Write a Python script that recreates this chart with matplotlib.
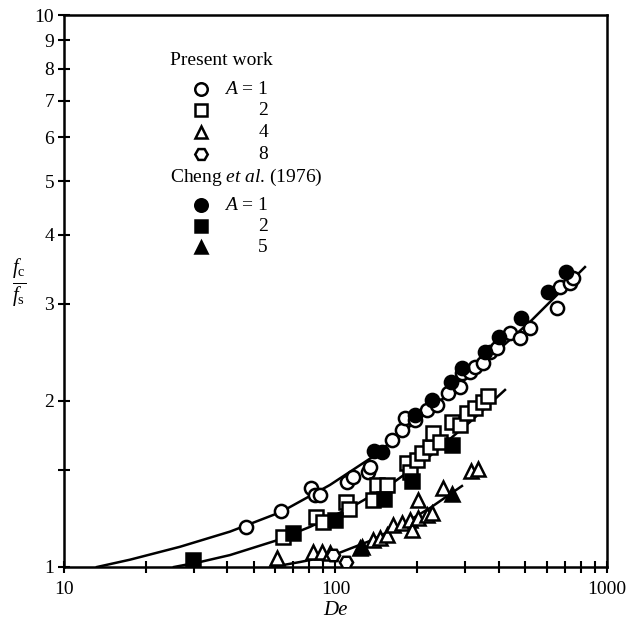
import numpy as np
import matplotlib.pyplot as plt
from matplotlib.ticker import FixedLocator, NullFormatter, NullLocator

plt.rcParams['font.family'] = ['Liberation Serif', 'DejaVu Serif']
plt.rcParams['mathtext.fontset'] = 'custom'
plt.rcParams['mathtext.rm'] = 'Liberation Serif'
plt.rcParams['mathtext.it'] = 'Liberation Serif:italic'

# Present work, A = 1 (open circles)
de_a1 = [46.8, 63.0, 81.2, 84.0, 87.7, 110.3, 116.0, 131.8, 134.0, 161.5, 175.8, 180.3, 196.3,
         217.3, 236.5, 259.7, 287.4, 292.3, 312.8, 326.4, 349.4, 370.8, 393.4, 439.3, 478.1,
         520.5, 654.4, 671.3, 730.7, 749.6]
fr_a1 = [1.181, 1.263, 1.390, 1.350, 1.350, 1.426, 1.456, 1.486, 1.518, 1.699, 1.771, 1.862,
         1.846, 1.925, 1.966, 2.067, 2.119, 2.246, 2.256, 2.303, 2.342, 2.452, 2.493, 2.654,
         2.599, 2.710, 2.946, 3.216, 3.270, 3.339]
# Present work, A = 2 (open squares)
de_a2 = [64.1, 84.8, 89.9, 109.3, 112.1, 137.5, 142.2, 154.8, 183.4, 188.1, 199.7, 208.3,
         222.9, 228.6, 242.6, 268.6, 287.4, 305.0, 326.4, 349.4, 364.5]
fr_a2 = [1.133, 1.232, 1.206, 1.311, 1.274, 1.322, 1.408, 1.408, 1.543, 1.486, 1.563, 1.609,
         1.650, 1.748, 1.685, 1.831, 1.808, 1.901, 1.941, 1.990, 2.041]
# Present work, A = 4 (open triangles)
de_a4 = [60.9, 82.6, 89.2, 95.4, 123.1, 137.5, 145.8, 154.8, 162.8, 175.8, 188.1, 191.3,
         201.4, 217.3, 226.7, 201.4, 248.8, 315.6, 334.9]
fr_a4 = [1.038, 1.065, 1.065, 1.060, 1.082, 1.119, 1.129, 1.143, 1.191, 1.201, 1.217, 1.167,
         1.227, 1.242, 1.253, 1.322, 1.390, 1.492, 1.505]
# Present work, A = 8 (open hexagons)
de_a8 = [97.9, 109.3]
fr_a8 = [1.051, 1.021]

# Cheng et al. (1976)
de_c1 = [138.6, 148.4, 196.3, 226.7, 266.3, 292.3, 355.3, 400.2, 482.2, 606.3, 706.3]
fr_c1 = [1.622, 1.615, 1.886, 2.006, 2.163, 2.294, 2.452, 2.610, 2.826, 3.150, 3.422]
de_c2 = [29.9, 69.8, 99.6, 150.9, 191.3, 268.6]
fr_c2 = [1.030, 1.152, 1.217, 1.328, 1.431, 1.663]
de_c5 = [125.2, 268.6]
fr_c5 = [1.087, 1.356]

# solid curves (A = 1, 2, 4)
cx_1 = [13.23, 17.51, 26.75, 40.87, 63.0, 95.4, 138.6, 226.7, 355.3, 529.4, 829.8]
cy_1 = [1.0, 1.031, 1.088, 1.159, 1.258, 1.408, 1.589, 1.941, 2.351, 2.803, 3.495]
cx_2 = [25.42, 31.7, 40.87, 59.9, 80.5, 113.1, 158.8, 222.9, 312.8, 421.1]
cy_2 = [1.0, 1.021, 1.051, 1.115, 1.182, 1.279, 1.408, 1.589, 1.831, 2.093]
cx_4 = [58.4, 74.0, 87.7, 103.9, 134.0, 172.8, 222.9, 292.3]
cy_4 = [1.0, 1.021, 1.038, 1.062, 1.115, 1.187, 1.279, 1.402]

fig = plt.figure(figsize=(6.31, 6.27), dpi=100)
ax = fig.add_axes([0.1014, 0.0957, 0.8605, 0.8803])
ax.set_xscale('log')
ax.set_yscale('log')
ax.set_xlim(10, 1000)
ax.set_ylim(1, 10)

for cx, cy in [(cx_1, cy_1), (cx_2, cy_2), (cx_4, cy_4)]:
    ax.plot(cx, cy, color='black', lw=1.8, zorder=2, solid_joinstyle='round')

kw = dict(linestyle='none', markersize=9.5, markeredgewidth=1.8, markeredgecolor='black', zorder=3)
ax.plot(de_a1, fr_a1, 'o', markerfacecolor='white', **kw)
ax.plot(de_a2, fr_a2, 's', markerfacecolor='white', **kw)
ax.plot(de_a4, fr_a4, '^', markerfacecolor='white', **kw)
ax.plot(de_a8, fr_a8, 'H', markerfacecolor='white', **kw)
ax.plot(de_c1, fr_c1, 'o', markerfacecolor='black', **kw)
ax.plot(de_c2, fr_c2, 's', markerfacecolor='black', **kw)
ax.plot(de_c5, fr_c5, '^', markerfacecolor='black', **kw)

# axes styling
for s in ax.spines.values():
    s.set_linewidth(1.8)
ax.xaxis.set_major_locator(FixedLocator([10, 100, 1000]))
ax.set_xticklabels(['10', '100', '1000'])
ax.xaxis.set_minor_locator(FixedLocator([20, 30, 40, 50, 60, 70, 80, 90,
                                         200, 300, 400, 500, 600, 700, 800, 900]))
ax.xaxis.set_minor_formatter(NullFormatter())
yt = [1, 1.5, 2, 3, 4, 5, 6, 7, 8, 9, 10]
ax.yaxis.set_major_locator(FixedLocator(yt))
ax.set_yticklabels(['1', '', '2', '3', '4', '5', '6', '7', '8', '9', '10'])
ax.yaxis.set_minor_locator(NullLocator())
ax.tick_params(axis='both', which='both', direction='inout', length=8, width=1.5,
               labelsize=14, top=False, right=False)
ax.tick_params(axis='x', which='major', pad=6)
ax.tick_params(axis='y', which='major', pad=3)

ax.set_xlabel('De', fontsize=15, fontstyle='italic', labelpad=2)
ax.text(-0.083, 0.514, r'$\frac{f_\mathrm{c}}{f_\mathrm{s}}$', transform=ax.transAxes,
        fontsize=21, ha='center', va='center')

# legend drawn by hand, positions in pixels of the figure
def px(xp, yp):
    return ((xp - 64) / 543.0, (567 - yp) / 552.0)

ax.text(*px(170, 60), 'Present work', transform=ax.transAxes, fontsize=14, va='center', ha='left')
ax.text(*px(170, 177), r'Cheng $\mathit{et\ al}$. (1976)', transform=ax.transAxes,
        fontsize=14, va='center', ha='left')

leg_rows = [('o', 'white', 89, True), ('s', 'white', 110, False), ('^', 'white', 132, False),
            ('H', 'white', 154, False), ('o', 'black', 205, True), ('s', 'black', 226, False),
            ('^', 'black', 247, False)]
leg_nums = ['1', '2', '4', '8', '1', '2', '5']
for (mk, fc, yp, first), num in zip(leg_rows, leg_nums):
    xa, ya = px(201, yp)
    ax.plot([xa], [ya], mk, transform=ax.transAxes, markersize=9, markerfacecolor=fc,
            markeredgecolor='black', markeredgewidth=1.8, clip_on=False)
    label = (r'$A$ = ' + num) if first else num
    ax.text(*px(268, yp), label, transform=ax.transAxes, fontsize=14, va='center', ha='right')

fig.savefig('out.png', dpi=100)
